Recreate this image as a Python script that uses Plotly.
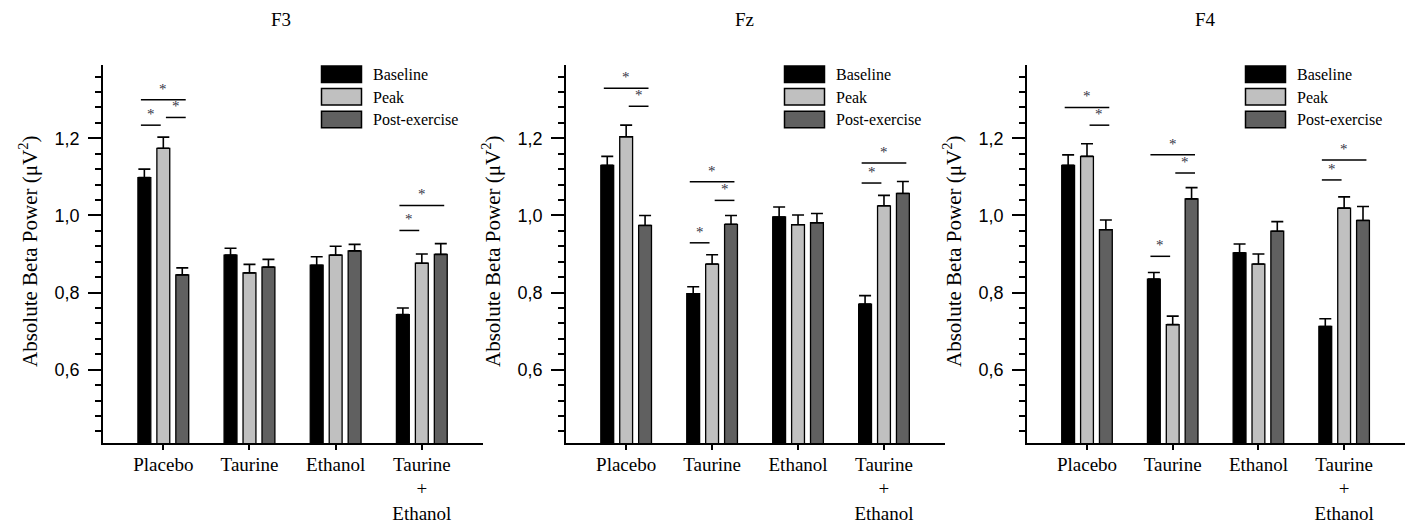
import plotly.graph_objects as go

# ---------------- data ----------------
categories = ["Placebo", "Taurine", "Ethanol", "Taurine<br>+<br>Ethanol"]
series_names = ["Baseline", "Peak", "Post-exercise"]
panel_titles = ["F3", "Fz", "F4"]

f3_baseline = [1.098, 0.897, 0.871, 0.743]
f3_baseline_err = [0.022, 0.018, 0.022, 0.017]
f3_peak = [1.174, 0.851, 0.897, 0.876]
f3_peak_err = [0.029, 0.022, 0.023, 0.024]
f3_post = [0.846, 0.866, 0.908, 0.899]
f3_post_err = [0.018, 0.020, 0.017, 0.028]

fz_baseline = [1.130, 0.797, 0.996, 0.770]
fz_baseline_err = [0.023, 0.018, 0.026, 0.022]
fz_peak = [1.204, 0.874, 0.976, 1.025]
fz_peak_err = [0.030, 0.024, 0.025, 0.027]
fz_post = [0.974, 0.977, 0.981, 1.057]
fz_post_err = [0.026, 0.023, 0.024, 0.031]

f4_baseline = [1.130, 0.835, 0.903, 0.712]
f4_baseline_err = [0.027, 0.017, 0.023, 0.020]
f4_peak = [1.153, 0.717, 0.874, 1.019]
f4_peak_err = [0.033, 0.022, 0.026, 0.029]
f4_post = [0.963, 1.043, 0.959, 0.987]
f4_post_err = [0.025, 0.029, 0.025, 0.036]

# significance brackets: (category index, first bar, second bar, height)
f3_sig = [(0, 0, 1, 1.234), (0, 1, 2, 1.254), (0, 0, 2, 1.300),
          (3, 0, 1, 0.961), (3, 0, 2, 1.026)]
fz_sig = [(0, 0, 2, 1.330), (0, 1, 2, 1.283),
          (1, 0, 1, 0.929), (1, 1, 2, 1.039), (1, 0, 2, 1.087),
          (3, 0, 1, 1.084), (3, 0, 2, 1.136)]
f4_sig = [(0, 0, 2, 1.280), (0, 1, 2, 1.234),
          (1, 0, 1, 0.894), (1, 0, 2, 1.157), (1, 1, 2, 1.110),
          (3, 0, 1, 1.092), (3, 0, 2, 1.144)]

panels = [
    ([f3_baseline, f3_peak, f3_post], [f3_baseline_err, f3_peak_err, f3_post_err], f3_sig),
    ([fz_baseline, fz_peak, fz_post], [fz_baseline_err, fz_peak_err, fz_post_err], fz_sig),
    ([f4_baseline, f4_peak, f4_post], [f4_baseline_err, f4_peak_err, f4_post_err], f4_sig),
]

# ---------------- style ----------------
W, H = 1409, 523
colors = ["#000000", "#c0c0c0", "#606060"]
SERIF = "Liberation Serif, Times New Roman, serif"
SANS = "Liberation Sans, Arial, sans-serif"
axis_left_px = [103, 566, 1027]
axis_right_px = [483, 945, 1405]
top_px, bottom_px = 65, 443
BARGAP = 0.34
slot = (1 - BARGAP) / 3
offsets = [-slot, 0.0, slot]

fig = go.Figure()
shapes = []
annotations = []
x_idx = list(range(len(categories)))

for p, (vals, errs, sigs) in enumerate(panels):
    sfx = "" if p == 0 else str(p + 1)
    for s in range(3):
        fig.add_trace(go.Bar(
            x=x_idx, y=vals[s], name=series_names[s],
            xaxis="x" + sfx, yaxis="y" + sfx,
            marker=dict(color=colors[s], line=dict(color="black", width=1.3)),
            error_y=dict(type="data", array=errs[s], arrayminus=[0] * len(errs[s]),
                         symmetric=False, color="black", thickness=1.6, width=6),
            showlegend=False,
        ))
    # axes
    fig.layout["xaxis" + sfx] = dict(
        domain=[axis_left_px[p] / W, axis_right_px[p] / W],
        anchor="y" + sfx, range=[-0.7, 3.71],
        tickvals=x_idx, ticktext=categories,
        ticks="outside", ticklen=5, tickwidth=1.5, tickcolor="black",
        showline=True, linewidth=1.5, linecolor="black",
        showgrid=False, zeroline=False,
        tickfont=dict(family=SERIF, size=19, color="black"),
        ticklabelstandoff=-2, automargin=False,
    )
    fig.layout["yaxis" + sfx] = dict(
        domain=[(H - bottom_px) / H, (H - top_px) / H],
        anchor="x" + sfx, range=[0.41, 1.39],
        tick0=0.6, dtick=0.2, tickformat=".1f",
        ticks="outside", ticklen=13, tickwidth=1.5, tickcolor="black",
        minor=dict(tick0=0.6, dtick=0.04, ticks="outside", ticklen=6,
                   tickwidth=1.5, tickcolor="black"),
        showline=True, linewidth=1.5, linecolor="black",
        showgrid=False, zeroline=False,
        tickfont=dict(family=SANS, size=18, color="black"),
        ticklabelstandoff=5, automargin=False,
    )
    # significance brackets
    for (g, i, j, yv) in sigs:
        x0 = g + offsets[i] + (-0.04 if i == 0 else 0.03)
        x1 = g + offsets[j] + (-0.03 if j == 1 else 0.04)
        shapes.append(dict(type="line", xref="x" + sfx, yref="y" + sfx,
                           x0=x0, x1=x1, y0=yv, y1=yv,
                           line=dict(color="black", width=1.5)))
        annotations.append(dict(xref="x" + sfx, yref="y" + sfx,
                                x=(x0 + x1) / 2, y=yv, text="*", showarrow=False,
                                yanchor="middle", yshift=11,
                                font=dict(family=SERIF, size=15, color="#333344")))
    # panel title
    annotations.append(dict(xref="paper", yref="paper",
                            x=(axis_left_px[p] + 178) / W, y=1 - 20 / H,
                            text=panel_titles[p], showarrow=False,
                            xanchor="center", yanchor="middle",
                            font=dict(family=SERIF, size=19, color="black")))
    # y title
    annotations.append(dict(xref="paper", yref="paper",
                            x=(axis_left_px[p] - 74) / W, y=1 - 252 / H,
                            text="Absolute Beta Power (μV<sup>2</sup>)",
                            textangle=-90, showarrow=False,
                            xanchor="center", yanchor="middle",
                            font=dict(family=SERIF, size=21, color="black")))
    # legend (drawn)
    bx = axis_left_px[p] + 218.5
    for s in range(3):
        y0 = 66 + s * 22.6
        shapes.append(dict(type="rect", xref="paper", yref="paper",
                           x0=bx / W, x1=(bx + 40) / W,
                           y0=1 - (y0 + 16.5) / H, y1=1 - y0 / H,
                           fillcolor=colors[s], line=dict(color="black", width=1.5)))
        annotations.append(dict(xref="paper", yref="paper",
                                x=(bx + 49) / W, y=1 - (y0 + 8.5) / H,
                                text=series_names[s], showarrow=False,
                                xanchor="left", yanchor="middle",
                                font=dict(family=SERIF, size=16, color="black")))

fig.update_layout(
    width=W, height=H,
    margin=dict(l=0, r=0, t=0, b=0),
    barmode="group", bargap=BARGAP, bargroupgap=0.32,
    separators=",.",
    plot_bgcolor="white", paper_bgcolor="white",
    shapes=shapes, annotations=annotations,
    showlegend=False,
)

fig.write_html("out.html", config={"displayModeBar": False},
               post_script="document.body.style.margin='0';document.body.style.padding='0';")
